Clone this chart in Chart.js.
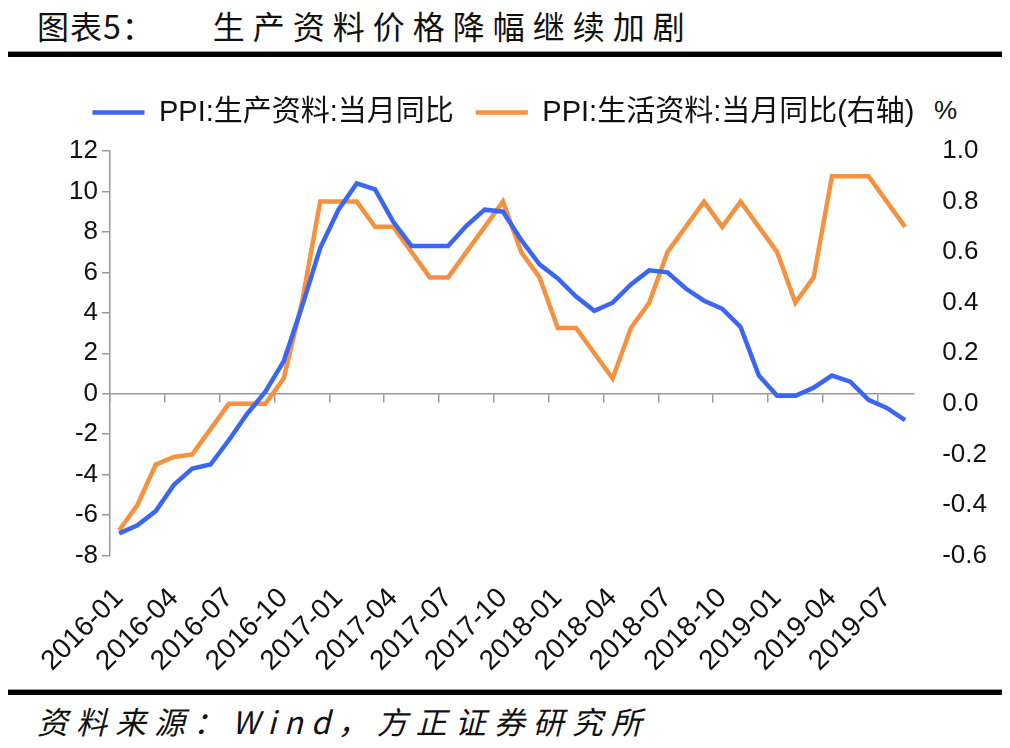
<!DOCTYPE html>
<html>
<head>
<meta charset="utf-8">
<script src="https://cdn.jsdelivr.net/npm/chart.js@4.4.1/dist/chart.umd.min.js"></script>
<style>
  body { margin: 0; background: #fff; width: 1010px; height: 748px; overflow: hidden; position: relative; font-family: "Liberation Sans", "Noto Sans CJK SC", sans-serif; }
  #title { position: absolute; left: 37px; top: 2px; font-family: "Noto Sans CJK SC", sans-serif; font-size: 32px; letter-spacing: 8px; color: #111; white-space: nowrap; }
  #title .pre { letter-spacing: 1px; margin-right: 58px; }
  .rule { position: absolute; left: 8px; width: 994px; height: 5px; background: #000; border-top: 1px solid #999; }
  #source { position: absolute; left: 37px; top: 698px; font-family: "Noto Sans CJK SC", sans-serif; font-style: italic; font-size: 31px; letter-spacing: 8px; color: #111; white-space: nowrap; }
  #unit { position: absolute; left: 934px; top: 95px; font-size: 26px; color: #111; }
  #wrap { position: absolute; left: 0; top: 76px; width: 1010px; height: 620px; }
</style>
</head>
<body>
<div id="title"><span class="pre">图表5：</span>生产资料价格降幅继续加剧</div>
<div class="rule" style="top:51px"></div>
<div id="unit">%</div>
<div id="wrap"><canvas id="myChart"></canvas></div>
<div class="rule" style="top:689px"></div>
<div id="source">资料来源：Wind，方正证券研究所</div>
<script>
// 2016-01 .. 2019-08
var months = [];
for (var y = 2016; y <= 2019; y++) {
  for (var m = 1; m <= 12; m++) {
    if (y === 2019 && m > 8) break;
    months.push(y + '-' + (m < 10 ? '0' + m : m));
  }
}

var producerGoods = [
  -6.9, -6.5, -5.8, -4.5, -3.7, -3.5, -2.3, -1.0, 0.1, 1.6, 4.3, 7.2,
  9.1, 10.4, 10.1, 8.5, 7.3, 7.3, 7.3, 8.3, 9.1, 9.0, 7.6, 6.4,
  5.7, 4.8, 4.1, 4.5, 5.4, 6.1, 6.0, 5.2, 4.6, 4.2, 3.3, 0.9,
  -0.1, -0.1, 0.3, 0.9, 0.6, -0.3, -0.7, -1.3
];
var consumerGoods = [
  -0.5, -0.4, -0.24, -0.21, -0.2, -0.1, 0.0, 0.0, 0.0, 0.1, 0.4, 0.8,
  0.8, 0.8, 0.7, 0.7, 0.6, 0.5, 0.5, 0.6, 0.7, 0.8, 0.6, 0.5,
  0.3, 0.3, 0.2, 0.1, 0.3, 0.4, 0.6, 0.7, 0.8, 0.7, 0.8, 0.7,
  0.6, 0.4, 0.5, 0.9, 0.9, 0.9, 0.8, 0.7
];

var leftTicks = { min: -8, max: 12, step: 2 };
var rightTicks = { min: -0.6, max: 1.0, step: 0.2 };

var blue = '#3b66f2';
var orange = '#f6913f';
var axisGrey = '#999999';
var tickFont = { family: 'Liberation Sans', size: 26 };

// leave some room under the legend
var legendGap = {
  id: 'legendGap',
  beforeInit: function (chart) {
    var fit = chart.legend.fit;
    chart.legend.fit = function () {
      fit.bind(chart.legend)();
      this.height += 14;
    };
  }
};

var ctx = document.getElementById('myChart').getContext('2d');
var myChart = new Chart(ctx, {
  type: 'line',
  plugins: [legendGap],
  data: {
    labels: months,
    datasets: [{
      label: 'PPI:生产资料:当月同比',
      data: producerGoods,
      borderColor: blue,
      backgroundColor: blue,
      borderWidth: 4.5,
      pointRadius: 0,
      yAxisID: 'y'
    }, {
      label: 'PPI:生活资料:当月同比(右轴)',
      data: consumerGoods,
      borderColor: orange,
      backgroundColor: orange,
      borderWidth: 4.5,
      pointRadius: 0,
      yAxisID: 'y1'
    }]
  },
  options: {
    responsive: true,
    maintainAspectRatio: false,
    animation: false,
    layout: { padding: { left: 0, right: 3, top: 0, bottom: 0 } },
    plugins: {
      legend: {
        position: 'top',
        labels: {
          color: '#111',
          font: { family: 'Liberation Sans, Noto Sans CJK SC', size: 29 },
          usePointStyle: true,
          pointStyle: 'line',
          pointStyleWidth: 52,
          padding: 22
        }
      },
      tooltip: { enabled: false }
    },
    scales: {
      x: {
        position: 'bottom',
        offset: true,
        grid: { display: false },
        border: { display: false },
        ticks: {
          autoSkip: false,
          minRotation: 45,
          maxRotation: 45,
          color: '#111',
          font: { family: 'Liberation Sans', size: 28 },
          padding: 18,
          callback: function (v, i) { return i % 3 === 0 ? months[i] : ''; }
        }
      },
      x2: {
        type: 'category',
        position: { y: 0 },
        offset: true,
        grid: {
          offset: true,
          drawOnChartArea: false,
          tickLength: 8,
          lineWidth: 1.5,
          color: function (c) { return c.index % 3 === 0 ? axisGrey : 'rgba(0,0,0,0)'; }
        },
        border: { color: axisGrey, width: 1.5 },
        ticks: { display: false }
      },
      y: {
        position: 'left',
        min: leftTicks.min,
        max: leftTicks.max,
        afterFit: function (scale) { scale.width = 110; },
        grid: { drawOnChartArea: false, tickLength: 8, color: axisGrey, lineWidth: 1.5 },
        border: { color: axisGrey, width: 1.5 },
        ticks: { stepSize: leftTicks.step, color: '#111', font: tickFont, padding: 4 }
      },
      y1: {
        position: 'right',
        min: rightTicks.min,
        max: rightTicks.max,
        grid: { display: false },
        border: { display: false },
        ticks: {
          stepSize: rightTicks.step,
          color: '#111',
          font: tickFont,
          padding: 20,
          callback: function (v) { return v.toFixed(1); }
        }
      }
    }
  }
});
</script>
</body>
</html>
